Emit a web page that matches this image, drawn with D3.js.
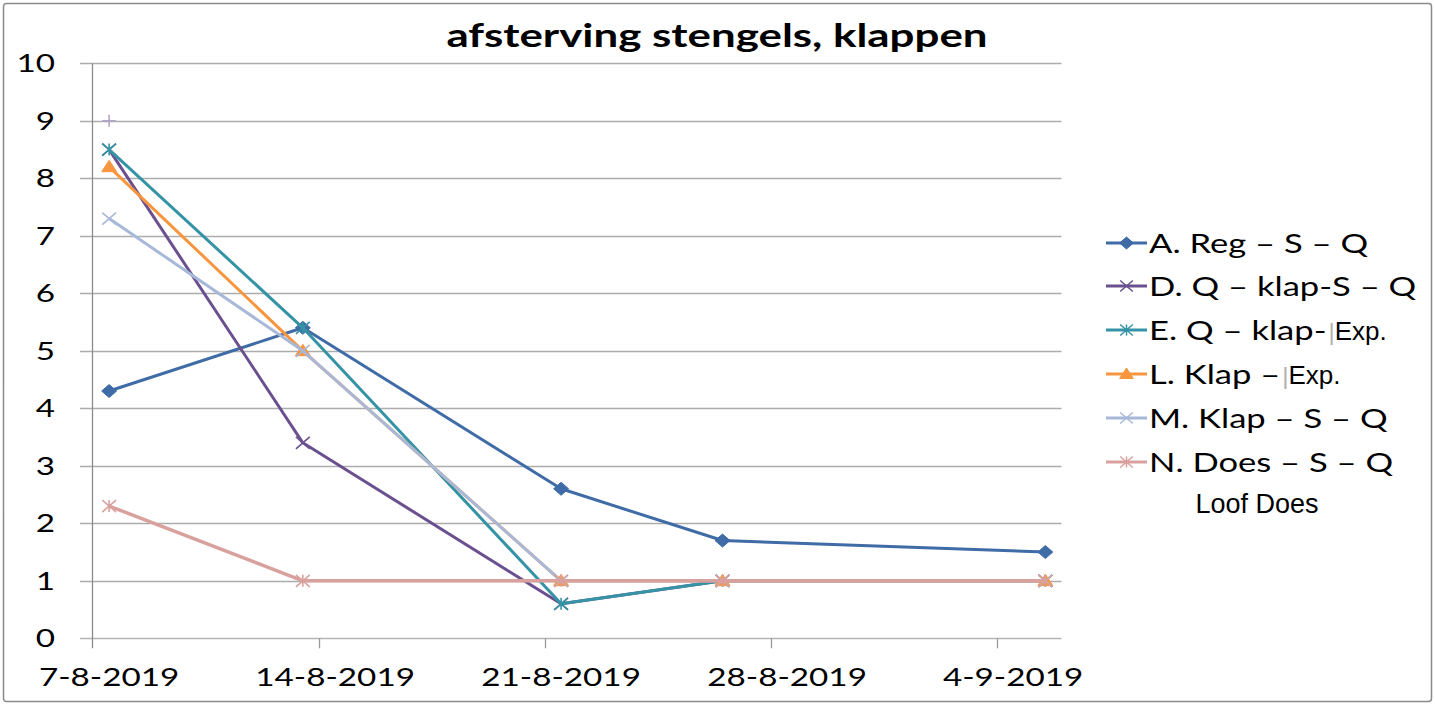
<!DOCTYPE html>
<html>
<head>
<meta charset="utf-8">
<script src="https://cdn.jsdelivr.net/npm/d3@7"></script>
<style>
	html, body { margin: 0; padding: 0; background: #fff; }
	svg { display: block; }
</style>
</head>
<body>
<div id="chart"></div>
<script>
// data
const dates = ['2019-08-07', '2019-08-13', '2019-08-21', '2019-08-26', '2019-09-05'];
const tickDates = ['2019-08-07', '2019-08-14', '2019-08-21', '2019-08-28', '2019-09-04'];
const tickLabels = ['7-8-2019', '14-8-2019', '21-8-2019', '28-8-2019', '4-9-2019'];
const yTicks = [0, 1, 2, 3, 4, 5, 6, 7, 8, 9, 10];

const seriesNames = [
	'A. Reg – S – Q',
	'D. Q – klap-S – Q',
	'E. Q – klap-',
	'L. Klap – ',
	'M. Klap – S – Q',
	'N. Does – S – Q',
	'Loof Does'
];
const valuesA = [4.3, 5.4, 2.6, 1.7, 1.5];
const valuesD = [8.5, 3.4, 0.6, 1, 1];
const valuesE = [8.5, 5.4, 0.6, 1, 1];
const valuesL = [8.2, 5.0, 1, 1, 1];
const valuesM = [7.3, 5.0, 1, 1, 1];
const valuesN = [2.3, 1, 1, 1, 1];
const valuesLoof = [9, null, null, null, null];

const colors = ['#3f6ba6', '#6b5090', '#3593a6', '#f7963f', '#a8b8d8', '#d9a19e', '#b3a6cc'];
const markers = ['diamond', 'x', 'star', 'triangle', 'x', 'star', 'plus'];

const width = 1435;
const height = 707;
const SX = 1.33; // the reference is stretched sideways

const parse = d3.utcParse('%Y-%m-%d');
const halfDay = 12 * 3600 * 1000;

const x = d3.scaleUtc()
	.domain([parse('2019-08-07'), parse('2019-09-06')])
	.range([93, 1061.5]);

const y = d3.scaleLinear()
	.domain([0, 10])
	.range([638.3, 63.3]);

const svg = d3.select('#chart')
	.append('svg')
	.attr('width', width)
	.attr('height', height);

svg.append('rect')
	.attr('x', 3.5)
	.attr('y', 3.5)
	.attr('width', width - 7)
	.attr('height', height - 9)
	.attr('rx', 3)
	.attr('fill', '#fff')
	.attr('stroke', '#8a8a8a')
	.attr('stroke-width', 1.5);

function stretched (sel, px, py) {
	return sel.attr('transform', `translate(${px},${py}) scale(${SX},1)`);
}

// title
stretched(svg.append('text'), 717, 47)
	.attr('text-anchor', 'middle')
	.attr('font-family', 'Lato, sans-serif')
	.attr('font-weight', 'bold')
	.attr('font-size', 33)
	.attr('fill', '#000')
	.text('afsterving stengels, klappen');

// gridlines
const [x0, x1] = x.range();
svg.append('g')
	.selectAll('line')
	.data(yTicks)
	.join('line')
	.attr('x1', x0 - 13)
	.attr('x2', x1)
	.attr('y1', (d) => Math.round(y(d)) + 0.5)
	.attr('y2', (d) => Math.round(y(d)) + 0.5)
	.attr('stroke', (d) => d === 0 ? '#b5b5b5' : '#adadad')
	.attr('stroke-width', 1.3);

// y axis line
svg.append('line')
	.attr('x1', x0 - 0.5)
	.attr('x2', x0 - 0.5)
	.attr('y1', y(10))
	.attr('y2', y(0) + 10)
	.attr('stroke', '#8c8c8c')
	.attr('stroke-width', 1.3);

// x tick marks
svg.append('g')
	.selectAll('line')
	.data(tickDates.slice(1))
	.join('line')
	.attr('x1', (d) => Math.round(x(parse(d))) + 0.5)
	.attr('x2', (d) => Math.round(x(parse(d))) + 0.5)
	.attr('y1', y(0))
	.attr('y2', y(0) + 10)
	.attr('stroke', '#9a9a9a')
	.attr('stroke-width', 1.3);

// y labels
svg.append('g')
	.selectAll('text')
	.data(yTicks)
	.join('text')
	.attr('transform', (d) => `translate(55,${y(d) + 9}) scale(${SX},1)`)
	.attr('text-anchor', 'end')
	.attr('font-family', 'Lato, sans-serif')
	.attr('font-size', 25)
	.attr('fill', '#000')
	.text((d) => d);

// x labels, centred on the day like Excel does
svg.append('g')
	.selectAll('text')
	.data(tickDates)
	.join('text')
	.attr('transform', (d) => `translate(${x(+parse(d) + halfDay)},686) scale(${SX},1)`)
	.attr('text-anchor', 'middle')
	.attr('font-family', 'Lato, sans-serif')
	.attr('font-size', 25)
	.attr('fill', '#000')
	.text((d, i) => tickLabels[i]);

function markerPath (type, r) {
	const rx = r * 1.15;
	switch (type) {
		case 'diamond':
			return `M0,${-r}L${rx},0L0,${r}L${-rx},0Z`;
		case 'triangle':
			return `M0,${-r}L${rx},${r * 0.75}L${-rx},${r * 0.75}Z`;
		case 'x':
			return `M${-rx},${-r}L${rx},${r}M${-rx},${r}L${rx},${-r}`;
		case 'star':
			return `M${-rx},${-r}L${rx},${r}M${-rx},${r}L${rx},${-r}M0,${-r}V${r}`;
		case 'plus':
			return `M${-rx},0H${rx}M0,${-r}V${r}`;
	}
}

const allValues = [valuesA, valuesD, valuesE, valuesL, valuesM, valuesN, valuesLoof];
const series = allValues.map((vals, i) => ({
	name: seriesNames[i],
	color: colors[i],
	marker: markers[i],
	points: vals.map((v, j) => ({ date: parse(dates[j]), value: v }))
		.filter((p) => p.value !== null)
}));

const line = d3.line()
	.x((d) => x(+d.date + halfDay))
	.y((d) => y(d.value));

const plot = svg.append('g');

series.forEach((s, i) => {
	const g = plot.append('g');
	if (s.points.length > 1) {
		g.append('path')
			.attr('d', line(s.points))
			.attr('fill', 'none')
			.attr('stroke', s.color)
			.attr('stroke-width', i === 5 ? 3.5 : 3)
			.attr('stroke-linejoin', 'round');
	}
	const filled = s.marker === 'diamond' || s.marker === 'triangle';
	g.selectAll('path.mk')
		.data(s.points)
		.join('path')
		.attr('class', 'mk')
		.attr('transform', (d) => `translate(${x(+d.date + halfDay)},${y(d.value)})`)
		.attr('d', markerPath(s.marker, filled ? 6.5 : 6))
		.attr('fill', filled ? s.color : 'none')
		.attr('stroke', s.color)
		.attr('stroke-width', filled ? 1 : 1.6);
});

// legend
const legend = svg.append('g');
const legendY = [243, 286, 330, 374, 418, 462];

series.slice(0, 6).forEach((s, i) => {
	const ly = legendY[i];
	const filled = s.marker === 'diamond' || s.marker === 'triangle';
	legend.append('line')
		.attr('x1', 1106)
		.attr('x2', 1147)
		.attr('y1', ly)
		.attr('y2', ly)
		.attr('stroke', s.color)
		.attr('stroke-width', 3);
	legend.append('path')
		.attr('transform', `translate(1126.5,${ly})`)
		.attr('d', markerPath(s.marker, filled ? 6 : 5.5))
		.attr('fill', filled ? s.color : 'none')
		.attr('stroke', s.color)
		.attr('stroke-width', filled ? 1 : 1.5);
	const t = stretched(legend.append('text'), 1149, ly + 10)
		.attr('font-family', 'Lato, sans-serif')
		.attr('font-size', 26)
		.attr('fill', '#000')
		.text(s.name);
	// "Exp." was pasted in with another font, not stretched
	if (i === 2 || i === 3) {
		const w = t.node().getComputedTextLength() * SX;
		const e = legend.append('text')
			.attr('x', 1149 + w + 2)
			.attr('y', ly + 10)
			.attr('font-family', 'Liberation Sans, Arial, sans-serif')
			.attr('font-size', 26)
			.attr('fill', '#000');
		e.append('tspan')
			.attr('fill', '#b0b0b0')
			.attr('font-size', 24)
			.text('|');
		e.append('tspan')
			.text('Exp.');
	}
});

legend.append('text')
	.attr('x', 1257)
	.attr('y', 513)
	.attr('text-anchor', 'middle')
	.attr('font-family', 'Liberation Sans, Arial, sans-serif')
	.attr('font-size', 27)
	.attr('fill', '#000')
	.text(seriesNames[6]);
</script>
</body>
</html>
